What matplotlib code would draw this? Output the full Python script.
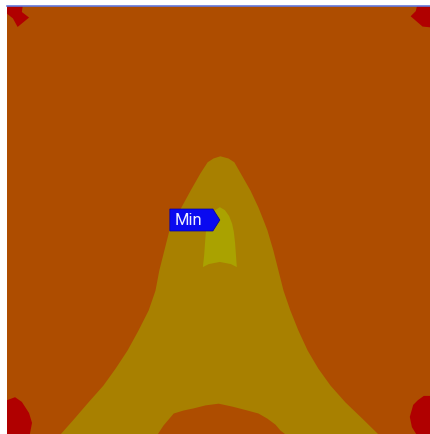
import matplotlib
matplotlib.use("Agg")
import matplotlib.pyplot as plt
import matplotlib.transforms as mtransforms
from matplotlib.patches import Polygon

# field bands on the 100 x 100 plate, read as boundary outlines
band_y = [0, 3.7, 7.5, 11.4, 15.4, 19.6, 24.3, 29.0, 33.6, 38.3, 43.0, 47.7,
          49.5, 53.0, 57.0, 61.0, 63.6, 64.5, 65.0]
band_left_x = [12.5, 15.8, 19.1, 22.6, 25.5, 28.3, 30.9, 33.3, 34.9, 35.8,
               37.0, 38.2, 39.2, 41.0, 43.2, 45.5, 47.2, 48.6, 50.2]
band_right_x = [87.5, 83.7, 79.7, 76.2, 73.3, 70.8, 68.6, 66.7, 65.1, 63.9,
                62.7, 61.3, 60.6, 59.2, 57.3, 55.0, 53.5, 52.1, 50.2]

bump_x = [35.4, 36.8, 39.2, 41.5, 43.9, 46.7, 49.8, 53.1, 56.6, 59.2, 61.3,
          63.2, 64.4, 65.6]
bump_y = [0, 2.1, 4.9, 5.6, 6.1, 6.8, 7.2, 6.5, 5.6, 4.9, 3.7, 2.3, 0.9, 0]

core_x = [46.2, 46.5, 46.7, 46.9, 47.4, 48.1, 49.1, 50.2, 51.4, 52.4, 53.1,
          53.5, 53.8, 54.0, 54.2, 52.8, 50.2, 47.6]
core_y = [39.0, 41.8, 44.6, 47.2, 49.1, 50.9, 52.3, 53.0, 52.3, 50.9, 49.1,
          47.2, 44.6, 41.8, 39.0, 39.7, 40.2, 39.7]

corners = {
    "top_left": ([0, 3.7, 3.5, 5.2, 2.5, 1.4, 0],
                 [100, 100, 98.6, 97.3, 95.1, 97.1, 98.2]),
    "top_right": ([96.7, 100, 100, 98.0, 95.2, 96.4],
                  [100, 100, 95.0, 95.2, 97.6, 98.8]),
    "bottom_left": ([0, 1.9, 3.5, 5.2, 5.9, 5.4, 0],
                    [7.9, 8.6, 7.5, 4.9, 2.6, 0, 0]),
    "bottom_right": ([100, 98.3, 96.9, 95.8, 95.0, 95.5, 96.5, 100],
                     [8.9, 8.9, 7.9, 6.8, 4.0, 1.6, 0, 0]),
}

min_point = (50.2, 50.0)
min_label = "Min"

c_high = "#AE4D00"
c_mid = "#A88000"
c_low = "#AAA200"
c_max = "#B00000"

fig = plt.figure(figsize=(4.31, 4.34), dpi=100)
ax = fig.add_axes([7 / 431, 0, 424 / 431, 428 / 434])
ax.set_xlim(0, 100)
ax.set_ylim(0, 100)
ax.set_facecolor(c_high)

ax.fill_betweenx(band_y, band_left_x, band_right_x, color=c_mid, lw=0)
ax.fill_between(bump_x, 0, bump_y, color=c_high, lw=0)
ax.fill(core_x, core_y, color=c_low, lw=0)
for cx, cy in corners.values():
    ax.fill(cx, cy, color=c_max, lw=0)

ax.set_xticks([])
ax.set_yticks([])
for side in ["left", "right", "bottom"]:
    ax.spines[side].set_visible(False)
ax.spines["top"].set_color("#6478DC")
ax.spines["top"].set_linewidth(1.2)

# pointer label, sized in inches around the minimum location
trans = fig.dpi_scale_trans + mtransforms.ScaledTranslation(*min_point, ax.transData)
tag = Polygon([(-0.50, -0.11), (-0.07, -0.11), (0, 0), (-0.07, 0.11), (-0.50, 0.11)],
              closed=True, transform=trans, facecolor="#0A0AF0",
              edgecolor="#0000A0", lw=0.5, zorder=5)
ax.add_patch(tag)
ax.text(-0.31, -0.005, min_label, transform=trans, ha="center", va="center",
        color="#F0F0FF", fontsize=12, family=["Roboto", "DejaVu Sans"], zorder=6)

fig.savefig("out.png", dpi=100)
